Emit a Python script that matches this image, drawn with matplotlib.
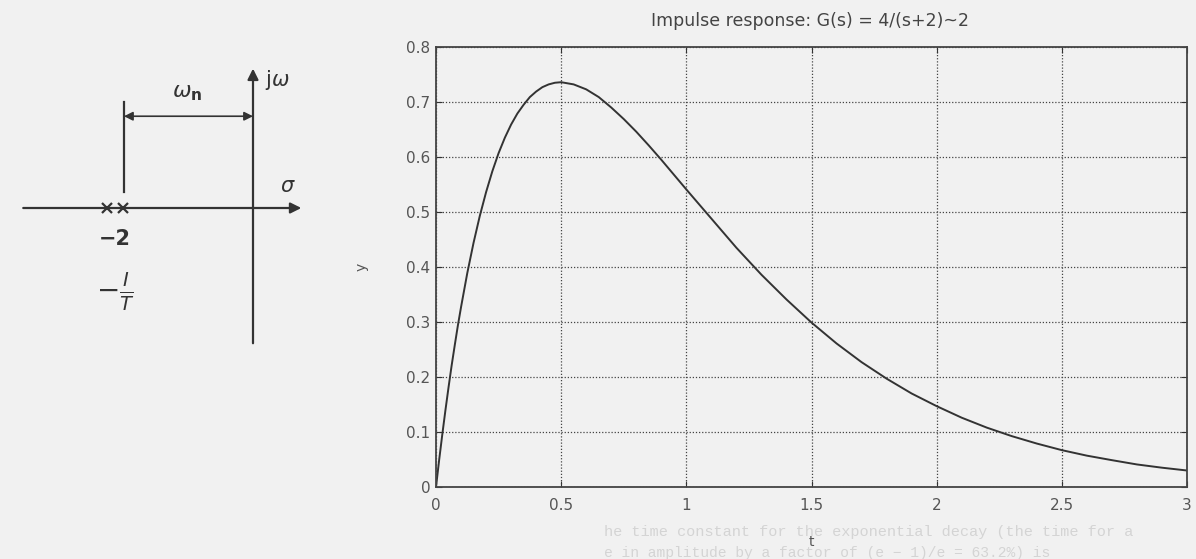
import matplotlib
matplotlib.use('Agg')
import matplotlib.pyplot as plt

# impulse response values
t = [0, 0.0125, 0.025, 0.0375, 0.05, 0.0625, 0.075, 0.0875, 0.1, 0.125, 0.15,
     0.175, 0.2, 0.225, 0.25, 0.275, 0.3, 0.325, 0.35, 0.375, 0.4, 0.425,
     0.45, 0.475, 0.5, 0.55, 0.6, 0.65, 0.7, 0.75, 0.8, 0.85, 0.9, 0.95, 1.0,
     1.1, 1.2, 1.3, 1.4, 1.5, 1.6, 1.7, 1.8, 1.9, 2.0, 2.1, 2.2, 2.3, 2.4,
     2.5, 2.6, 2.7, 2.8, 2.9, 3.0]
y = [0, 0.0488, 0.095, 0.139, 0.181, 0.221, 0.258, 0.294, 0.327, 0.389, 0.444,
     0.493, 0.536, 0.574, 0.607, 0.635, 0.659, 0.679, 0.695, 0.709, 0.719,
     0.727, 0.732, 0.735, 0.736, 0.732, 0.723, 0.709, 0.690, 0.669, 0.646,
     0.621, 0.595, 0.568, 0.541, 0.488, 0.435, 0.386, 0.341, 0.299, 0.261,
     0.227, 0.197, 0.170, 0.147, 0.126, 0.108, 0.0925, 0.079, 0.067, 0.057,
     0.0488, 0.041, 0.0351, 0.030]
x_ticks = [0, 0.5, 1, 1.5, 2, 2.5, 3]
x_ticklabels = ['0', '0.5', '1', '1.5', '2', '2.5', '3']
y_ticks = [0, 0.1, 0.2, 0.3, 0.4, 0.5, 0.6, 0.7, 0.8]
y_ticklabels = ['0', '0.1', '0.2', '0.3', '0.4', '0.5', '0.6', '0.7', '0.8']
title = 'Impulse response: G(s) = 4/(s+2)~2'

# s-plane sketch: double pole at -2
poles = [-2.12, -1.88]

bg = '#f1f1f1'
ink = '#333333'
grey = '#555555'

fig = plt.figure(figsize=(11.96, 5.59), dpi=100, facecolor=bg)

# ---- left: pole sketch (axes in s-plane units) ----
ax0 = fig.add_axes([0, 0, 360 / 1196, 1])
ax0.set_xlim(-253 / 69, 107 / 69)
ax0.set_ylim(-351 / 69, 208 / 69)
ax0.axis('off')

ax0.annotate('', xy=(0.7, 0), xytext=(-3.33, 0),
             arrowprops=dict(arrowstyle='-|>', lw=1.6, color=ink, mutation_scale=16, shrinkA=0, shrinkB=0))
ax0.annotate('', xy=(0, 2.02), xytext=(0, -1.96),
             arrowprops=dict(arrowstyle='-|>', lw=1.6, color=ink, mutation_scale=16, shrinkA=0, shrinkB=0))
ax0.plot(poles, [0, 0], 'x', color=ink, ms=7, mew=1.6)
ax0.plot([-1.87, -1.87], [0.23, 1.54], color=ink, lw=1.6)
ax0.annotate('', xy=(-1.87, 1.33), xytext=(0, 1.33),
             arrowprops=dict(arrowstyle='<|-|>', lw=1.2, color=ink, mutation_scale=13, shrinkA=0, shrinkB=0))
ax0.text(-0.96, 1.66, r'$\omega_{\mathbf{n}}$', fontsize=16, color=ink, ha='center', va='center')
ax0.text(0.17, 1.86, r'j$\omega$', fontsize=15, color=ink, ha='left', va='center')
ax0.text(0.5, 0.32, r'$\sigma$', fontsize=15, color=ink, ha='center', va='center')
ax0.text(-2.0, -0.45, '\u22122', fontsize=15, fontweight='bold', color=ink, ha='center', va='center')
ax0.text(-2.0, -1.22, r'$-\frac{I}{T}$', fontsize=20, color=ink, ha='center', va='center')

# ---- right: impulse response ----
ax = fig.add_axes([436 / 1196, 72 / 559, 751 / 1196, 440 / 559])
ax.set_facecolor(bg)
ax.plot(t, y, color=ink, lw=1.4)
ax.set_xlim(0, 3)
ax.set_ylim(0, 0.8)
ax.set_xticks(x_ticks)
ax.set_xticklabels(x_ticklabels)
ax.set_yticks(y_ticks)
ax.set_yticklabels(y_ticklabels)
ax.grid(True, linestyle=(0, (1, 1.5)), color='#444444', lw=0.9)
ax.tick_params(direction='in', length=4, top=True, right=True, labelsize=11,
               labelcolor=grey, color=ink)
ax.tick_params(axis='y', pad=4)
ax.tick_params(axis='x', pad=8)
for s in ax.spines.values():
    s.set_color('#444444')
    s.set_linewidth(1.3)
ax.set_xlabel('t', fontsize=10, color=grey, labelpad=16)
ax.set_ylabel('y', fontsize=10, color=grey, labelpad=27)
fig.text(810 / 1196, 1 - 21 / 559, title, fontsize=12.5, color='#444444', ha='center', va='center')

# faint text from the page behind the scan
fig.text(604 / 1196, 1 - 532 / 559, 'he time constant for the exponential decay (the time for a',
         family='Liberation Mono', fontsize=11, color='#d4d4d4', ha='left', va='center')
fig.text(604 / 1196, 1 - 553 / 559, 'e in amplitude by a factor of (e \u2212 1)/e = 63.2%) is',
         family='Liberation Mono', fontsize=10.5, color='#d4d4d4', ha='left', va='center')

fig.savefig('out.png', dpi=100, facecolor=bg)
